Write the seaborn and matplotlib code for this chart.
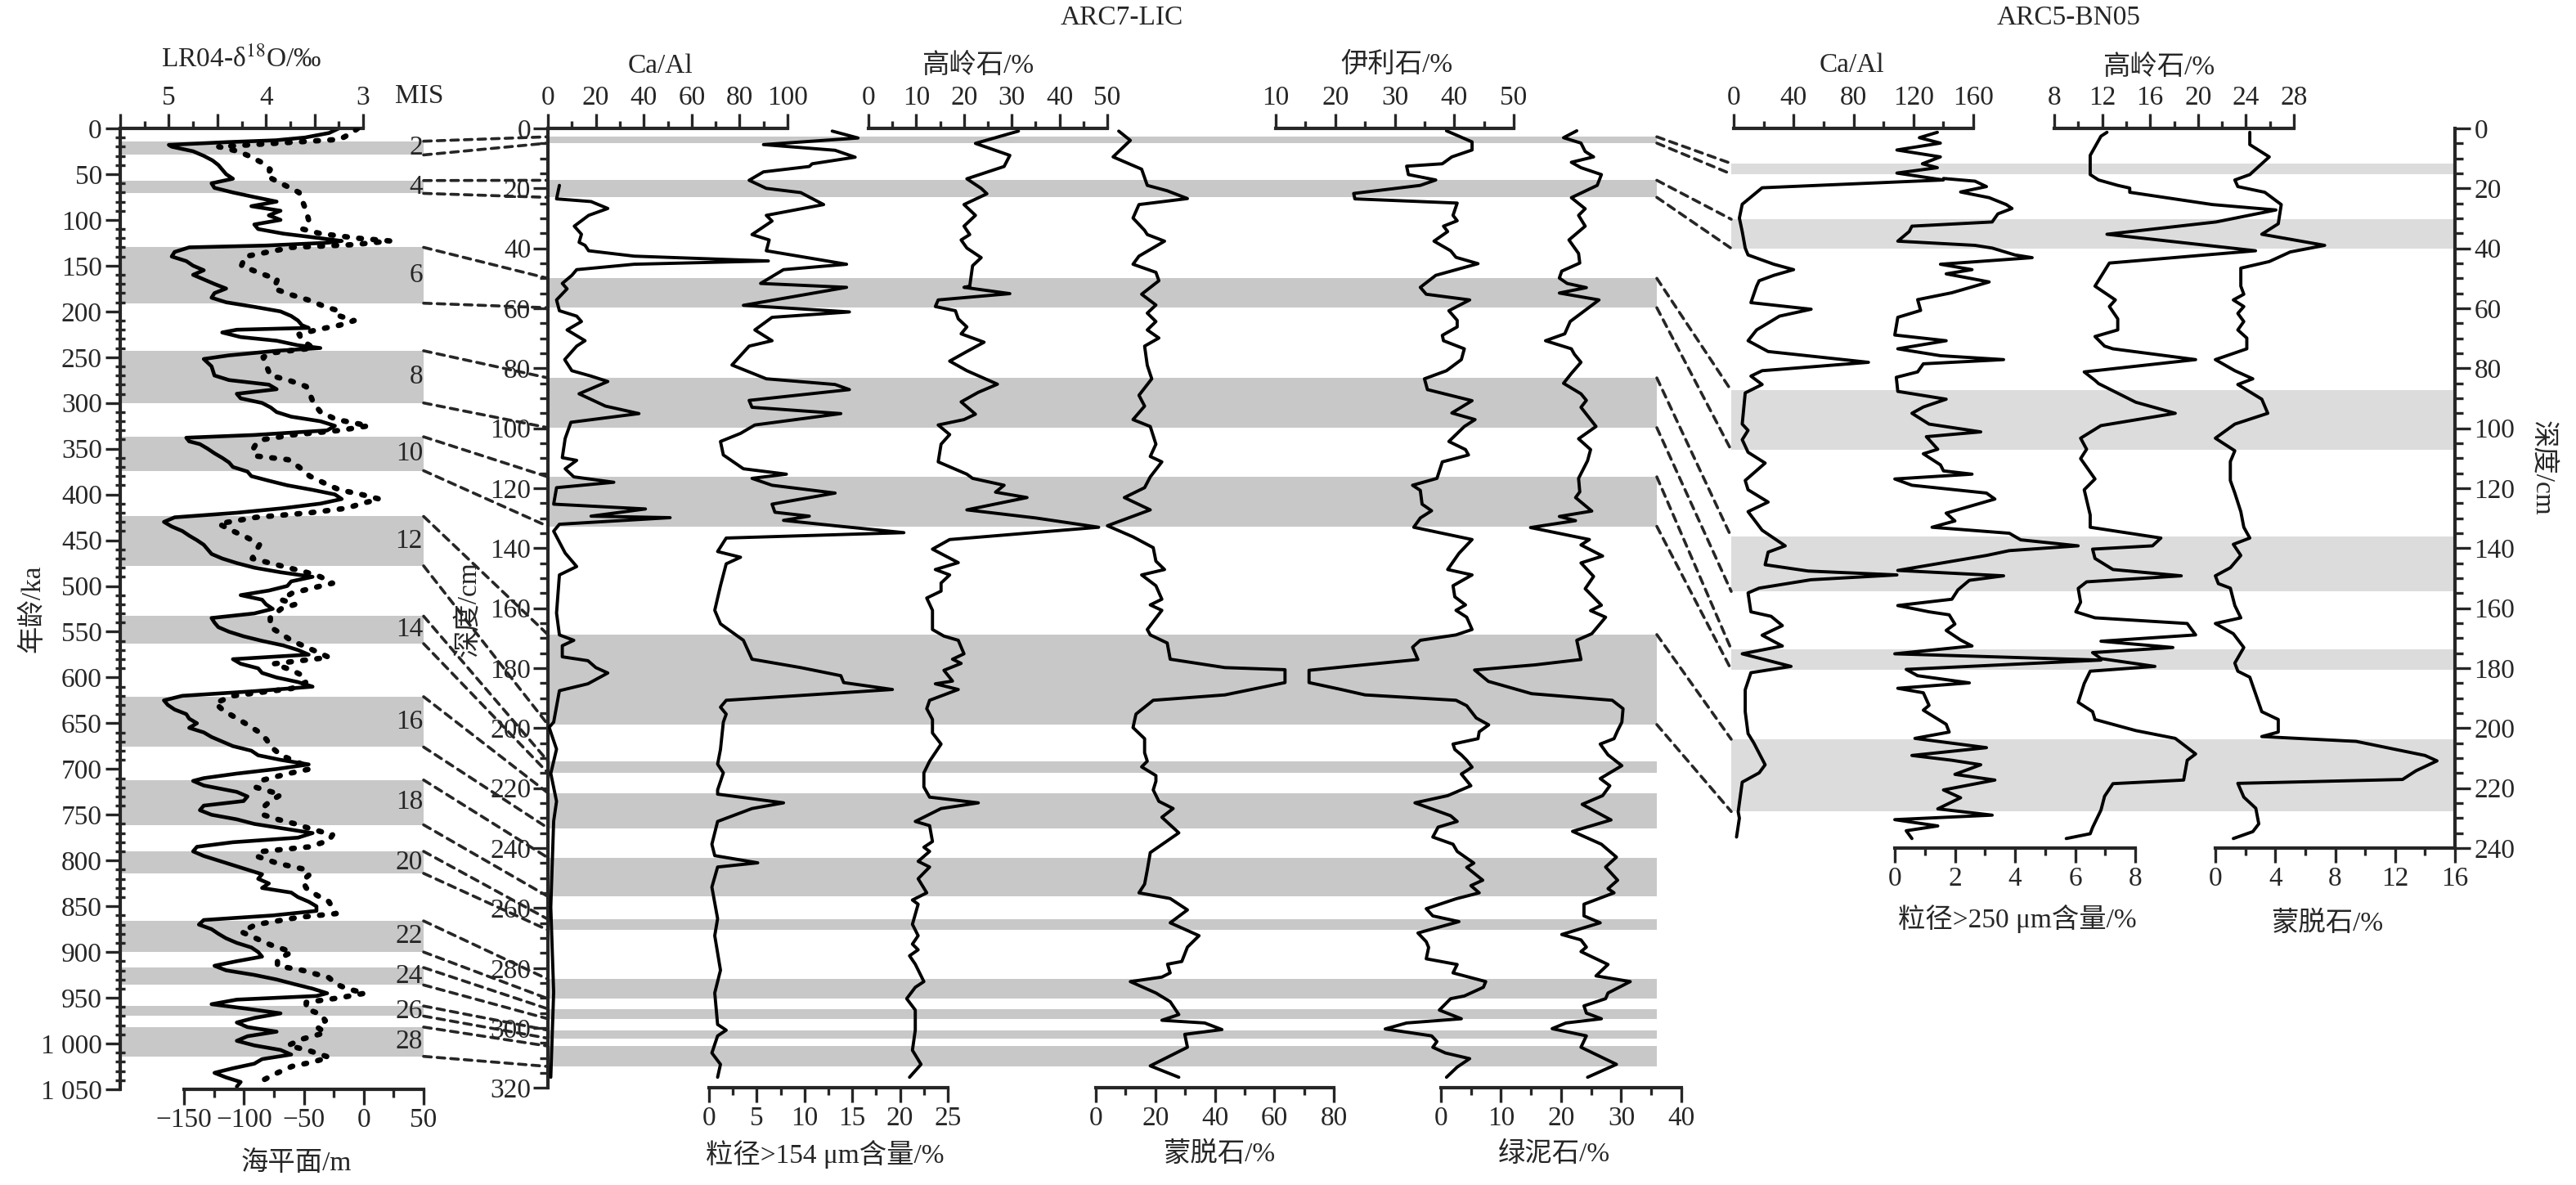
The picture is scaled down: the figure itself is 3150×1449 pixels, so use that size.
import numpy as np
import matplotlib
matplotlib.use("Agg")
import matplotlib.pyplot as plt
import seaborn as sns
from matplotlib.patches import ConnectionPatch
from matplotlib.ticker import FixedLocator, FuncFormatter

# ---------------- DATA ----------------
# LR04 benthic d18O (solid) vs age (ka)
lr04_age = [0, 5, 10, 13, 15, 18, 20, 25, 30, 35, 40, 45, 50, 55, 60, 65, 70, 75, 80, 85, 90, 95, 100, 105, 110, 115, 120, 123, 125, 128,
            130, 135, 140, 145, 150, 155, 160, 165, 170, 175, 180, 185, 190, 195, 200, 205, 210, 215, 218, 220, 223, 228, 232, 237, 240,
            243, 248, 252, 260, 270, 275, 280, 285, 290, 295, 300, 305, 310, 315, 320, 325, 330, 335, 338, 342, 345, 350, 355, 360, 365,
            370, 375, 380, 385, 390, 395, 400, 405, 410, 415, 420, 425, 430, 435, 440, 445, 450, 455, 460, 465, 470, 475, 480, 485, 490,
            495, 500, 505, 510, 515, 520, 525, 530, 535, 540, 545, 550, 555, 560, 565, 570, 575, 580, 585, 590, 595, 600, 605, 610, 615,
            620, 625, 630, 635, 640, 645, 650, 655, 660, 665, 670, 675, 680, 685, 690, 695, 700, 705, 710, 713, 718, 725, 730, 735, 740,
            745, 750, 755, 760, 765, 770, 775, 780, 785, 790, 795, 800, 805, 810, 815, 820, 825, 830, 835, 840, 845, 850, 855, 860, 865,
            870, 875, 880, 885, 890, 895, 900, 905, 910, 915, 920, 925, 930, 935, 940, 945, 948, 952, 957, 962, 967, 972, 977, 982, 987,
            992, 997, 1002, 1007, 1012, 1017, 1022, 1027, 1032, 1037, 1042, 1047]
lr04_d18o = [3.25, 3.35, 3.6, 3.9, 4.4, 5.0, 4.97, 4.75, 4.64, 4.55, 4.49, 4.45, 4.41, 4.34, 4.56, 4.53, 4.34, 4.12, 3.89, 4.15, 3.85, 3.97, 3.85, 4.12, 4.08, 3.82, 3.44, 3.22, 3.37, 4.0,
             4.79, 4.94, 4.97, 4.82, 4.75, 4.64, 4.75, 4.64, 4.53, 4.41, 4.53, 4.56, 4.41, 4.12, 3.85, 3.74, 3.67, 3.63, 3.56, 4.30, 4.45, 4.26, 3.89, 3.67, 3.44,
             3.89, 4.38, 4.64, 4.56, 4.53, 4.38, 3.97, 3.89, 4.30, 4.26, 4.04, 3.95, 3.89, 3.74, 3.44, 3.29, 3.37, 4.12, 4.82, 4.79, 4.68, 4.60, 4.53, 4.45, 4.38,
             4.34, 4.19, 4.15, 3.97, 3.78, 3.52, 3.29, 3.22, 3.44, 3.82, 4.30, 4.94, 5.05, 4.97, 4.86, 4.79, 4.71, 4.64, 4.60, 4.56, 4.45, 4.30, 4.12, 3.85, 3.52,
             3.74, 3.78, 3.97, 4.26, 4.04, 4.00, 3.93, 4.12, 4.56, 4.53, 4.49, 4.38, 4.23, 4.04, 3.82, 3.67, 3.56, 4.34, 4.26, 4.08, 4.04, 3.89, 3.67, 3.52, 4.12,
             4.86, 5.05, 5.01, 4.94, 4.82, 4.79, 4.71, 4.79, 4.64, 4.56, 4.45, 4.34, 4.15, 4.08, 3.85, 3.56, 3.89, 4.30, 4.64, 4.75, 4.64, 4.30, 4.19, 4.23, 4.64,
             4.68, 4.56, 4.30, 4.12, 3.82, 3.52, 3.67, 4.34, 4.71, 4.75, 4.64, 4.49, 4.34, 4.19, 4.04, 4.08, 3.97, 4.04, 3.74, 3.67, 3.56, 3.48, 3.48, 3.93, 4.64,
             4.69, 4.56, 4.49, 4.41, 4.30, 4.15, 4.08, 4.04, 4.30, 4.53, 4.41, 4.12, 3.89, 3.71, 3.52, 3.37, 3.48, 4.30, 4.56, 4.19, 3.85, 4.12, 4.30, 4.19, 3.89,
             4.19, 4.30, 4.12, 3.85, 3.74, 4.04, 4.12, 4.34, 4.53, 4.41, 4.26, 4.30]

# Sea level (dotted) vs age (ka)
sl_age = [0, 5, 12, 20, 25, 30, 38, 45, 52, 60, 70, 80, 90, 100, 110, 115, 120, 123, 127, 130, 140, 150, 158, 165, 175, 182, 188, 195,
          200, 205, 210, 215, 220, 225, 232, 240, 245, 250, 260, 270, 275, 282, 290, 300, 310, 318, 325, 330, 335, 340, 345, 352, 358,
          362, 370, 380, 390, 395, 400, 405, 410, 415, 420, 425, 432, 440, 448, 455, 462, 470, 475, 480, 485, 490, 497, 502, 508, 515,
          520, 525, 535, 545, 552, 560, 565, 572, 578, 585, 592, 598, 605, 612, 620, 628, 635, 640, 650, 660, 668, 675, 685, 695, 700,
          705, 712, 720, 728, 735, 742, 750, 755, 760, 765, 772, 778, 785, 790, 795, 803, 810, 815, 822, 830, 838, 845, 852, 858, 862,
          870, 878, 885, 892, 900, 908, 915, 920, 928, 935, 940, 945, 950, 955, 962, 968, 975, 982, 988, 995, 1002, 1008, 1015, 1020,
          1025, 1032, 1040]
sl_m = [-5, -10, -20, -121, -105, -96, -84, -78, -81, -69, -54, -51, -48, -46, -51, -36, -5, 22, -8, -60, -99, -102, -87, -72, -75, -60, -45, -32,
        -19, -20, -8, -20, -39, -54, -51, -42, -75, -84, -81, -78, -63, -48, -45, -42, -36, -23, 4, -20, -60, -84, -90, -93, -90,
        -63, -54, -45, -29, -20, -2, 13, -2, -14, -45, -90, -121, -109, -96, -87, -90, -93, -78, -63, -48, -36, -26, -42, -60, -69,
        -57, -69, -78, -78, -69, -60, -51, -39, -29, -75, -60, -51, -48, -60, -109, -124, -118, -112, -99, -87, -81, -78, -69, -51, -45,
        -63, -84, -90, -69, -78, -84, -84, -72, -57, -45, -26, -29, -45, -84, -90, -72, -48, -45, -51, -48, -39, -29, -26, -23, -54,
        -90, -102, -90, -78, -60, -72, -72, -51, -29, -23, -14, 1, -20, -48, -48, -36, -32, -39, -32, -51, -63, -45, -29, -42,
        -60, -72, -84]

# Marine isotope stages (glacial, ka)
mis_labels = ["2", "4", "6", "8", "10", "12", "14", "16", "18", "20", "22", "24", "26", "28"]
mis_top = [14, 57, 130, 243, 337, 424, 533, 621, 712, 790, 866, 917, 959, 982]
mis_bottom = [29, 71, 191, 300, 374, 478, 563, 676, 761, 814, 900, 936, 970, 1014]

# ARC7-LIC (depth cm)
lic_band_top = [2.8, 17.3, 50.0, 83.2, 116.2, 168.8, 211.0, 221.6, 243.2, 263.7, 283.7, 293.6, 300.7, 306.0]
lic_band_bottom = [4.9, 23.0, 59.8, 99.8, 132.7, 198.8, 214.9, 233.3, 256.1, 267.3, 290.2, 296.9, 303.4, 312.8]

lic_caal_depth = [19, 23.5, 24.4, 26.7, 29, 32.6, 35.3, 38, 39, 40.8, 42.6, 44.2, 45.3, 47.1, 49, 51.7, 53.5, 57.2, 60.8, 62.6, 64.4, 67.2,
                  70.8, 72.6, 77.1, 80.8, 82.6, 84.4, 88.5, 92.6, 95.1, 98, 103.4, 109.8, 110.7, 113.5, 116.2, 118, 119.8, 125.3, 126.9,
                  129.3, 129.8, 132, 134.3, 141.6, 146.1, 148.9, 161.6, 168.9, 170.7, 172.5, 176.2, 177.5, 179.8, 181.6, 185.2, 187.5,
                  198, 199.7, 207, 215.1, 224.4, 231, 259.7, 288, 316.4]
lic_caal = [4.8, 3.6, 18, 25, 17, 11, 14, 13, 15.5, 17, 36, 92, 36, 12, 10, 6, 8, 3.6, 4.8, 12, 14, 8,
            15.5, 12, 7, 10, 18, 25, 13, 24, 38, 9.6, 7.2, 6, 12, 7.2, 10.8, 27.5, 3.6, 2.4, 40.7,
            18, 51, 4.8, 2.4, 7.2, 12, 4.8, 3.6, 4.8, 10.8, 6, 6, 16.7, 20, 25, 16.7, 4.8,
            2.4, 0.5, 3.6, 1.2, 3.6, 2.4, 1.2, 2.4, 1.2]

lic_gs_depth = [0.9, 3.2, 5.4, 7.3, 9.6, 11.8, 12.7, 14.5, 17.3, 20, 21.4, 25.4, 29, 30.9, 35.4, 37.2, 40.8, 45.3, 47.1, 51.7, 53, 59,
                61.2, 63, 67.2, 70.8, 72.6, 78.9, 83.5, 85.4, 87.1, 90.7, 93, 95.1, 98.9, 101.7, 104.4, 108.9, 113.5, 115.3, 116.7,
                119, 121.6, 125.3, 128, 129.3, 130.7, 132.5, 134.8, 136.6, 141.1, 143, 145.2, 152.5, 160.7, 165.2, 170.7, 177,
                179.8, 182.5, 184.8, 187.1, 190.7, 193, 195.3, 198, 207.1, 212, 214.9, 220.6, 222, 224.9, 226.8, 231.1, 238.7,
                242.5, 244.9, 246.3, 253, 263.5, 269.2, 280.7, 288.3, 298.8, 300.7, 302.6, 308.3, 312.1, 316.4]
lic_gs = [12.9, 15.6, 5.7, 13.2, 15.3, 10.8, 10.5, 5.7, 4.2, 6, 9.6, 12, 6, 6.6, 4.5, 6.3, 6, 14.4, 7.8, 5.4, 14.4, 3.6,
          14.7, 6.6, 4.8, 6.6, 4.2, 2.4, 6, 13.2, 14.7, 4.2, 4.5, 13.8, 4.8, 3.3, 1.2, 1.5, 3.6, 8.1, 4.5,
          6.6, 13.2, 6.6, 6.9, 10.5, 7.8, 13.2, 20.4, 1.8, 0.9, 3.3, 1.8, 1.2, 0.6, 1.2, 3.6, 4.5,
          9.6, 13.8, 14.1, 19.2, 1.8, 1.2, 1.8, 1.5, 1.2, 0.9, 1.5, 0.9, 0.9, 7.8, 4.5, 0.9, 0.3,
          0.6, 5.1, 0.9, 0.3, 0.9, 0.6, 1.2, 0.6, 0.9, 1.8, 0.9, 0.3, 1.2, 0.9]

lic_kaol_depth = [0.9, 5, 9, 12.7, 16.8, 20, 21.8, 25.4, 29, 32.6, 35.4, 37.2, 39.9, 43.1, 45.8, 52.6, 53, 55.1, 57.2, 59.4, 60.8, 63.5,
                  66.2, 68.5, 71.3, 74.4, 77.6, 80.8, 85.3, 88, 91.2, 95.3, 97.1, 98.9, 102.1, 105.3, 111.2, 115.3, 116.7, 119, 121.3,
                  123.1, 127.2, 129.9, 133, 137.1, 140.3, 144.8, 147.1, 148.9, 151.6, 154.3, 156.6, 160.7, 167.1, 169.3, 170.7, 175.2,
                  177, 178.4, 180.7, 184.3, 185.2, 187.1, 190.7, 193.5, 197.1, 201.6, 205.3, 211, 214.9, 219.6, 223, 224.9, 226.8,
                  231.1, 232.5, 237.8, 239.7, 241.1, 244.4, 246.3, 250.2, 254.9, 257.3, 258.7, 265.4, 269.2, 272, 273.9, 275.9, 278.7,
                  284.5, 286.4, 290.2, 294, 300.7, 307.4, 312.1, 316.4]
lic_kaol = [31.4, 22.4, 29.6, 28.4, 20.6, 23.6, 24.8, 20, 22.4, 20, 21.2, 19.4, 20.6, 23.6, 21.8, 21.2, 20, 29.6, 14.6, 14, 18.2, 18.8,
            20.6, 19.4, 24.2, 20.6, 17, 20.6, 27, 23, 19.4, 22.4, 20, 14.6, 17, 15.2, 14.6, 20.6, 21.8, 28.4, 26.6,
            33.2, 20.6, 35, 48.2, 17, 13.4, 18.8, 14, 17, 15.2, 15.2, 12.2, 13.4, 13.4, 15.8, 18.8, 20,
            17.6, 19.4, 15.8, 17.6, 14, 18.8, 12.8, 12.2, 13.4, 13.4, 15.2, 12.8, 11.6, 11.6, 12.8, 23, 15.2,
            9.8, 12.8, 13.4, 11.6, 12.8, 10.4, 12.8, 10.4, 12.2, 9.2, 10.4, 9.2, 10.4, 9.2, 10.4, 8.6, 9.8,
            11.6, 9.8, 8, 9.8, 9.8, 9.2, 11, 8.6]

lic_smec_depth = [0.9, 4, 9.5, 13.6, 19, 20.8, 23.4, 25.4, 29.9, 34, 35.4, 37.6, 42.6, 45.3, 48, 50.8, 55.3, 58.9, 61.6, 64.4, 67.2,
                  69.9, 72.6, 79, 83.5, 89, 92.6, 97.1, 99.4, 105.3, 109.4, 111.2, 116.2, 119.8, 123.1, 127.2, 132.5, 136.2, 139.8,
                  144.3, 147.1, 148.9, 152.5, 157, 158.9, 160.7, 167.1, 168.9, 171.6, 177, 179.8, 180.5, 184.8, 188.9, 190.7, 195.3,
                  199.8, 203.5, 208.2, 211, 212.9, 215.8, 217.7, 220.6, 224.4, 226.8, 229.7, 234.9, 241.5, 247.3, 252, 254.9, 256.8,
                  260.6, 264.9, 269.2, 273, 277.8, 278.7, 281.6, 283, 284.5, 288.3, 291.2, 295.5, 297.4, 298.3, 300.5, 302.1, 306.4,
                  312.6, 316.4]
lic_smec = [7.7, 11.6, 5.8, 15.4, 17.3, 24, 30.8, 14.5, 12.5, 16.4, 17.3, 23.1, 14.5, 12.5, 20.2, 21.2, 15.4, 20.2, 17.3, 20.2, 17.3,
            21.2, 16.4, 17.3, 18.8, 14.5, 16.4, 12.5, 18.3, 20.2, 18.3, 22.2, 18.3, 16.4, 9.6, 18.3, 3.9, 12.5, 19.3,
            20.2, 23.1, 15.4, 20.2, 22.2, 18.3, 22.2, 17.3, 18.3, 24, 25, 43.4, 63.6, 63.6, 43.4, 19.3, 13.5,
            12.5, 16.4, 16.4, 17.3, 15.4, 20.2, 20.2, 19.3, 21.2, 26, 22.2, 27.9, 18.3, 17.3, 16.4, 14.5, 25,
            30.8, 25, 34.7, 30.8, 28.9, 24.1, 25, 22.2, 11.6, 20.2, 25, 27.9, 22.2, 36.6, 42.4, 29.9, 30.8,
            18.3, 27.9]

lic_illite_depth = [0.8, 4.5, 7.2, 9.5, 11.8, 12.6, 15.4, 17.2, 19, 21.7, 23.5, 24.9, 29, 30.8, 32.6, 34.4, 37.6, 40.8, 43, 45.1, 49,
                    53, 55.3, 57.2, 60.8, 64, 66.2, 69, 70.8, 73.5, 77.1, 80.8, 83.5, 87.1, 90.8, 94.9, 97.1, 99.4, 104.4, 107.1,
                    108.9, 111.2, 116.7, 119, 120.7, 125.3, 127.5, 129.9, 133, 137.1, 141.7, 147.1, 148.9, 152.5, 156.2, 158.9,
                    160.7, 163, 167.1, 168.9, 170.7, 173, 177.1, 178.9, 180.7, 184.8, 187.1, 188.9, 190.7, 192.5, 196.6, 198.9,
                    201.2, 203.5, 205.3, 207.1, 208.9, 210.7, 213, 215.3, 219.2, 222.5, 224.9, 229.2, 231.1, 233, 236.3, 238.7,
                    241.1, 245, 246.4, 250.7, 252.5, 254.9, 256.9, 260.2, 262.6, 264.5, 268.3, 271.2, 273.1, 276.9, 278.8, 281.6,
                    284.5, 286.4, 289.3, 290.2, 294, 296.9, 298.3, 300.3, 302.6, 304.5, 306.4, 308.3, 310.2, 313, 316.4]
lic_illite = [38.7, 43, 43, 39.6, 38, 32, 32.3, 36.9, 34.3, 23.1, 23.3, 40.5, 39.8, 40.5, 38.2, 38.9, 36.6, 39.4, 40.3, 44, 36.9,
              34.3, 35.3, 42.6, 39.1, 40.5, 40.5, 38, 38.2, 41.7, 41.2, 38.7, 35, 35.5, 43, 39.6, 43.5, 41.7, 39.1, 41.9,
              42.4, 38, 37.1, 33, 34.3, 34.6, 36.2, 34.3, 33.2, 43, 40.8, 38.9, 43, 39.8, 40.1, 41.9,
              40.3, 42.1, 43, 40.3, 34.3, 33, 33.9, 24.7, 15.6, 15.6, 21, 25, 40.3, 42.1, 43.7, 45.8,
              44.2, 44, 39.8, 40.1, 41.2, 42.1, 43, 41.2, 42.8, 38.9, 33.4, 39.4, 40.5, 37.3, 36.4, 39.8,
              40.5, 43.3, 42.1, 44.8, 42.8, 44.2, 40.3, 35.3, 36.4, 40.8, 33.9, 35.3, 35.7, 35.3, 40.5, 39.8,
              45.3, 44.9, 41.7, 39.4, 37.5, 41.2, 32, 28.4, 36.2, 37.1, 36.4, 38.5, 42.6, 40.5, 38.7]

lic_chl_depth = [0.8, 3.1, 4.9, 7.7, 9.5, 11.3, 13.1, 15.4, 19, 23.1, 26.8, 29, 32.6, 37.2, 41.7, 44.9, 47.6, 49.9, 51.7, 53.1, 54.9,
                 57.2, 61.7, 64.4, 68.5, 70.8, 73.5, 75.3, 78, 81.7, 85, 88.5, 90.7, 93, 99.4, 103.5, 107.1, 110.8, 116.7, 121.2,
                 123.1, 127.6, 129.4, 130.8, 133.1, 137.1, 138.9, 142.6, 144.9, 149.4, 153.5, 159, 160.8, 163, 168.5, 170.7, 177.1,
                 178.9, 180.6, 184.4, 188.5, 190.7, 193.5, 198, 200.8, 203.5, 205.3, 208.9, 212.5, 216.8, 219.2, 222.5, 225.4,
                 230.6, 234.4, 238.7, 243, 246.3, 250.7, 253.5, 254.9, 258.7, 262.6, 264.9, 268.8, 270.6, 273, 274.5, 278.8,
                 282.6, 284.5, 288.3, 290.2, 292.6, 295, 296.9, 298.3, 300.2, 302.6, 306.4, 312.1, 316.4]
lic_chl = [22.6, 20.4, 23.3, 24, 25.4, 21.7, 23.3, 26.7, 26, 21.7, 24, 22.9, 24, 21.3, 22.9, 23.1, 20.1, 19.7, 21, 24.2, 19.7,
           26.3, 23.3, 21.5, 20.6, 17.4, 21.7, 22.2, 23.3, 21.7, 20.4, 23.3, 24.2, 23.3, 25.8, 22.9, 24.9, 24.4, 22.9, 23.1,
           22.4, 25.1, 19.7, 22.4, 14.9, 24.7, 23.3, 26.9, 23.3, 25.4, 24, 26.7, 24.9, 27.4, 25.1, 22.6, 23.3,
           15.6, 5.6, 7.9, 15.1, 28.5, 30.3, 30.1, 29.4, 28.8, 26.5, 27.8, 30.1, 26.5, 28.1, 26.9, 23.5,
           28.3, 21.9, 26.7, 29.2, 27.4, 29.4, 27.8, 28.8, 23.8, 23.8, 26.5, 20.1, 23.3, 24.2, 23.3, 27.8,
           25.8, 31.5, 27.8, 27.4, 23.8, 24.2, 26.7, 20.8, 18.5, 24.2, 23.3, 29.2, 24.4]

# ARC5-BN05 (depth cm)
bn_band_top = [11.7, 30.3, 87.4, 136.2, 173.7, 203.7]
bn_band_bottom = [15.2, 40.0, 107.3, 154.4, 180.5, 227.8]

bn_caal_depth = [1.3, 3.1, 4.9, 7.2, 9.5, 11.8, 13.1, 14.9, 17.2, 19.8, 25.3, 29.9, 34.4, 39.9, 42.2, 45.3, 47.1, 49, 50.8, 52.6,
                 58.1, 60.3, 62.6, 64.9, 67.2, 70.8, 74.4, 78, 80.8, 82.6, 85.4, 88.2, 98.6, 100.7, 103.8, 108, 111.6, 117.4,
                 120.5, 124.6, 127.8, 134, 139.2, 141.3, 145.5, 147.6, 148.9, 150.5, 153.3, 154.9, 161.2, 162.7, 165.8, 169,
                 172.6, 175.2, 179.4, 181.5, 187.2, 194.5, 201.8, 204.9, 212.2, 214.9, 218, 227.9, 230, 236.3]
bn_caal = [136, 124, 138, 109, 138, 126, 136, 109, 140, 19, 5.7, 3.8, 5.7, 7.7, 9.6, 26.8, 40, 26.8, 17, 15.3,
           11.5, 51.7, 30.6, 23, 15.3, 9.6, 23, 90, 19, 11.5, 19, 7.7, 5.7, 9.6, 5.7, 9.6, 21, 7.7,
           9.6, 23, 9.6, 19, 34.4, 23, 21, 49.8, 109, 51.7, 17, 9.6, 11.5, 25, 32.5, 19,
           32.5, 5.7, 38.3, 11.5, 7.7, 7.7, 9.6, 13.4, 21, 17, 5.7, 3, 3.8, 1.9]

bn_gs_depth = [16.7, 17.6, 19.4, 21.2, 23.1, 25.4, 26.7, 28.5, 31.2, 32.6, 34.4, 37.6, 39, 39.9, 42.2, 43.1, 45.3, 47.1, 48.5,
               51.2, 54.8, 57.1, 60.7, 63, 68.9, 70.8, 73.5, 75.8, 77.1, 78.5, 81.2, 83, 87.7, 90.3, 92.9, 95, 98.6, 101.2,
               102.8, 107, 108.5, 112.2, 114.2, 115.3, 116.9, 119, 121.6, 123.6, 128.3, 130.9, 133, 135, 137.2, 139.2, 140.8,
               142.4, 147.4, 149.2, 150.7, 153.9, 157, 159.1, 161.2, 162.2, 165.3, 167.4, 170.6, 172.6, 175.2, 177.3, 180.4,
               182.5, 184.9, 186.7, 188.2, 192.4, 194, 198.7, 201.3, 203.4, 206.5, 209.1, 210.7, 212.2, 215.4, 217.3, 220.6,
               223.2, 226.9, 229, 230.5, 232.6, 234.2, 236.8]
bn_gs = [1.62, 2.67, 3.05, 2.19, 3.14, 3.71, 3.9, 3.43, 3.24, 0.57, 0.48, 0.1, 2.67, 3.24, 4.0, 4.57, 1.52, 2.57, 1.71,
         3.14, 1.9, 0.76, 0.86, 0.1, 0.0, 1.71, 0.1, 1.52, 3.62, 0.95, 0.76, 0.05, 0.1, 1.71, 0.95, 0.57, 1.14, 2.86,
         1.05, 1.43, 0.95, 1.52, 1.62, 2.57, 0.0, 0.57, 3.05, 3.33, 1.71, 2.0, 1.24, 3.81, 4.19, 6.1, 3.81,
         3.05, 0.1, 3.62, 2.48, 2.1, 1.9, 0.1, 1.14, 1.81, 2.0, 1.71, 2.19, 2.57, 0.0, 6.86, 0.38,
         0.76, 2.48, 0.1, 0.95, 1.14, 0.95, 1.71, 1.81, 0.67, 3.05, 0.57, 1.9, 2.86, 2.0, 3.33, 1.62,
         2.19, 1.43, 3.24, 0.0, 1.43, 0.38, 0.57]

bn_kaol_depth = [1.3, 2.6, 9, 15.4, 17.2, 19, 19.9, 21.3, 25.4, 27.2, 31.2, 35.3, 40.8, 44.9, 52.6, 57.2, 59.4, 63.5, 67.2, 69.4,
                 72.6, 73.5, 77.1, 81.2, 84, 85.1, 91.3, 95, 99.1, 103.3, 107, 110.1, 116.9, 120.5, 128.9, 133, 136.6, 139.2,
                 140.3, 143.4, 147.1, 149.2, 151.2, 153.4, 158, 161.2, 163.2, 165.1, 168.9, 171, 173.1, 174.8, 176.8, 179.4,
                 181, 185.1, 191.4, 194.5, 197.1, 200.8, 203.4, 208.6, 210.7, 217.3, 218.5, 222.7, 227.3, 233.1, 235.2, 236.8]
bn_kaol = [12.4, 11.9, 11.0, 11.0, 11.7, 13.3, 14.3, 14.3, 21.2, 26.5, 21.5, 12.4, 24.8, 12.6, 11.4, 13.1, 12.6, 13.3, 13.3, 11.4,
           12.2, 12.9, 19.8, 10.5, 11.4, 11.7, 14.8, 18.1, 11.9, 10.2, 10.7, 10.2, 11.4, 10.5, 11.0, 11.0, 16.9, 16.2,
           11.2, 11.4, 12.9, 18.6, 10.7, 10.0, 10.2, 9.8, 11.4, 19.1, 19.8, 11.9, 17.9, 11.2, 11.9, 16.4,
           11.0, 10.5, 10.0, 11.2, 11.4, 14.8, 18.1, 19.8, 19.1, 18.8, 12.9, 12.2, 11.9, 11.2, 11.0, 9.0]

bn_smec_depth = [1.3, 5.4, 9.5, 15.4, 17.2, 19.4, 21.3, 25.4, 31.8, 35.3, 39, 41.2, 44.4, 46.6, 52.6, 55.3, 57.2, 59.4, 61.7, 64.4,
                 67.2, 69.9, 73.5, 77.1, 80.8, 83.5, 85.4, 90.3, 95, 98.6, 103.3, 107.5, 111.1, 117.4, 121.6, 127.8, 133, 136.6,
                 138.7, 142.4, 146.5, 149.2, 151.8, 153.3, 159.1, 163.2, 165.1, 168.5, 173.1, 178.3, 181, 183, 194.5, 197.1,
                 201.3, 202.8, 204.4, 209.1, 210.9, 214.2, 217.1, 218.4, 223, 226.7, 231.9, 234.5, 236.8]
bn_smec = [2.3, 2.3, 3.6, 2.3, 1.3, 1.5, 3.3, 4.4, 4.2, 3.1, 7.3, 5.0, 3.6, 1.7, 1.7, 1.9, 1.2, 1.9, 1.5, 1.9,
           1.5, 2.1, 2.1, 0.0, 1.3, 2.5, 1.5, 3.1, 3.5, 1.3, 0.0, 1.3, 1.0, 1.0, 1.3, 1.7, 1.9, 2.3,
           1.2, 1.7, 1.0, 0.0, 0.2, 1.0, 1.3, 1.7, 0.0, 1.2, 1.9, 1.3, 1.5, 2.3, 3.1, 4.2,
           4.2, 3.1, 9.4, 14.0, 14.8, 13.4, 12.5, 1.5, 1.9, 2.7, 2.9, 2.5, 1.2]

# ---------------- STYLE ----------------
sns.set_style("white")
plt.rcParams["font.family"] = ["Liberation Serif", "Noto Sans CJK SC"]
plt.rcParams["mathtext.fontset"] = "stix"
plt.rcParams["axes.unicode_minus"] = True

W, H, DPI = 3150, 1449, 100
FS = 24
LW_SP = 3.0
LW_TICK = 2.4
LW_CURVE = 2.8
BAND_DARK = "#c8c8c8"
BAND_LIGHT = "#dcdcdc"

fig = plt.figure(figsize=(W / DPI, H / DPI), dpi=DPI)
fig.patch.set_facecolor("white")


def rect(x0, y0, x1, y1):
    return [x0 / W, 1 - y1 / H, (x1 - x0) / W, (y1 - y0) / H]


def xlim_for(v0, v1, p0, p1, a0, a1):
    s = (p1 - p0) / (v1 - v0)
    return (v0 - (p0 - a0) / s, v0 + (a1 - p0) / s)


def num_fmt(v, pos=None):
    s = f"{v:g}"
    return s.replace("-", "\u2212")


def fx(px):
    return px / W


def fy(py):
    return 1 - py / H


def hide_spines(ax):
    for s in ax.spines.values():
        s.set_visible(False)


def curve_axis(base, a0, a1, v0, v1, p0, p1, side, major, minor, xs, ys, **kw):
    ax = base.twiny()
    sns.lineplot(x=xs, y=ys, ax=ax, sort=False, estimator=None, orient="y",
                 color="black", linewidth=LW_CURVE, legend=False, **kw)
    ax.set_xlim(*xlim_for(v0, v1, p0, p1, a0, a1))
    hide_spines(ax)
    ax.spines[side].set_visible(True)
    ax.spines[side].set_bounds(min(v0, v1), max(v0, v1))
    ax.spines[side].set_linewidth(LW_SP)
    if side == "top":
        ax.xaxis.set_ticks_position("top")
    else:
        ax.xaxis.set_ticks_position("bottom")
    lo, hi = min(v0, v1), max(v0, v1)
    ax.xaxis.set_major_locator(FixedLocator(np.arange(lo, hi + 1e-9, major)))
    ax.xaxis.set_minor_locator(FixedLocator(np.arange(lo, hi + 1e-9, minor)))
    ax.xaxis.set_major_formatter(FuncFormatter(num_fmt))
    ax.tick_params(axis="x", which="major", direction="out", length=13, width=LW_TICK,
                   pad=3, labelsize=FS)
    ax.tick_params(axis="x", which="minor", direction="out", length=6.5, width=LW_TICK)
    ax.set_xlabel("")
    ax.set_ylabel("")
    ax.grid(False)
    return ax


# ---------------- LR04 PANEL ----------------
LR_X0, LR_X1 = 147, 518
ax_lr = fig.add_axes(rect(LR_X0, 157, LR_X1, 1332))
ax_sl = ax_lr.twiny()

for t, b in zip(mis_top, mis_bottom):
    ax_lr.axhspan(t, b, color=BAND_DARK, lw=0, zorder=0)

sns.lineplot(x=lr04_d18o, y=lr04_age, ax=ax_lr, sort=False, estimator=None, orient="y",
             color="black", linewidth=3.3, legend=False)
sns.lineplot(x=sl_m, y=sl_age, ax=ax_sl, sort=False, estimator=None, orient="y",
             color="black", linewidth=4.8, legend=False,
             linestyle=(0, (0.5, 2.1)), dash_capstyle="round")

ax_lr.set_xlim(*xlim_for(5.5, 3.0, 147, 444, LR_X0, LR_X1))
ax_sl.set_xlim(*xlim_for(-150, 50, 225, 518, LR_X0, LR_X1))
ax_lr.set_ylim(1050, 0)

hide_spines(ax_lr)
ax_lr.spines["left"].set_visible(True)
ax_lr.spines["left"].set_linewidth(LW_SP)
ax_lr.spines["top"].set_visible(True)
ax_lr.spines["top"].set_bounds(3.0, 5.5)
ax_lr.spines["top"].set_linewidth(LW_SP)
ax_lr.xaxis.set_ticks_position("top")
ax_lr.xaxis.set_major_locator(FixedLocator(np.arange(3.0, 5.51, 0.5)))
ax_lr.xaxis.set_minor_locator(FixedLocator(np.arange(3.0, 5.51, 0.25)))
ax_lr.xaxis.set_major_formatter(FuncFormatter(lambda v, p: f"{v:.0f}" if abs(v - round(v)) < 1e-6 else ""))
ax_lr.tick_params(axis="x", which="major", direction="out", length=13, width=LW_TICK, pad=3, labelsize=FS)
ax_lr.tick_params(axis="x", which="minor", direction="out", length=6.5, width=LW_TICK)
ax_lr.yaxis.set_ticks_position("left")
ax_lr.yaxis.set_major_locator(FixedLocator(np.arange(0, 1051, 50)))
ax_lr.yaxis.set_minor_locator(FixedLocator(np.arange(0, 1051, 10)))
ax_lr.yaxis.set_major_formatter(FuncFormatter(
    lambda v, p: (f"{int(v) // 1000} {int(v) % 1000:03d}" if v >= 1000 else f"{int(v)}")))
ax_lr.tick_params(axis="y", which="major", direction="out", length=13, width=LW_TICK, pad=3, labelsize=FS)
ax_lr.tick_params(axis="y", which="minor", direction="inout", length=9, width=LW_TICK)
ax_lr.set_xlabel("")
ax_lr.set_ylabel("")

hide_spines(ax_sl)
ax_sl.spines["bottom"].set_visible(True)
ax_sl.spines["bottom"].set_bounds(-150, 50)
ax_sl.spines["bottom"].set_linewidth(LW_SP)
ax_sl.xaxis.set_ticks_position("bottom")
ax_sl.xaxis.set_major_locator(FixedLocator(np.arange(-150, 51, 50)))
ax_sl.xaxis.set_minor_locator(FixedLocator(np.arange(-150, 51, 25)))
ax_sl.xaxis.set_major_formatter(FuncFormatter(num_fmt))
ax_sl.tick_params(axis="x", which="major", direction="out", length=14, width=LW_TICK, pad=2, labelsize=FS)
ax_sl.tick_params(axis="x", which="minor", direction="out", length=7, width=LW_TICK)
ax_sl.set_xlabel("")
ax_sl.set_ylabel("")

for lab, t, b in zip(mis_labels, mis_top, mis_bottom):
    ax_lr.text(0.997, (t + b) / 2, lab, transform=ax_lr.get_yaxis_transform(),
               ha="right", va="center", fontsize=FS, zorder=5)

# ---------------- ARC7-LIC PANEL ----------------
M_X0, M_X1, M_BAND_X1 = 670, 2060, 2026
M_Y0, M_Y1 = 157, 157 + 320 * 3.667
ax_m = fig.add_axes(rect(M_X0, M_Y0, M_X1, M_Y1))
ax_m.patch.set_alpha(0)
ax_m.set_xlim(0, 1)
band_frac = (M_BAND_X1 - M_X0) / (M_X1 - M_X0)
for t, b in zip(lic_band_top, lic_band_bottom):
    ax_m.axhspan(t, b, xmin=0, xmax=band_frac, color=BAND_DARK, lw=0, zorder=0)

curves_m = [
    (0, 100, 670, 963, "top", 20, 10, lic_caal, lic_caal_depth),
    (0, 25, 867, 1159, "bottom", 5, 2.5, lic_gs, lic_gs_depth),
    (0, 50, 1062, 1354, "top", 10, 5, lic_kaol, lic_kaol_depth),
    (0, 80, 1340, 1631, "bottom", 20, 10, lic_smec, lic_smec_depth),
    (10, 50, 1560, 1851, "top", 10, 5, lic_illite, lic_illite_depth),
    (0, 40, 1762, 2056, "bottom", 10, 5, lic_chl, lic_chl_depth),
]
for v0, v1, p0, p1, side, mj, mn, xs, ys in curves_m:
    curve_axis(ax_m, M_X0, M_X1, v0, v1, p0, p1, side, mj, mn, xs, ys)

ax_m.set_ylim(320, 0)
hide_spines(ax_m)
ax_m.spines["left"].set_visible(True)
ax_m.spines["left"].set_linewidth(LW_SP)
ax_m.set_xticks([])
ax_m.yaxis.set_ticks_position("left")
ax_m.yaxis.set_major_locator(FixedLocator(np.arange(0, 321, 20)))
ax_m.yaxis.set_minor_locator(FixedLocator(np.arange(0, 321, 5)))
ax_m.yaxis.set_major_formatter(FuncFormatter(lambda v, p: f"{int(v)}"))
ax_m.tick_params(axis="y", which="major", direction="out", length=13, width=LW_TICK, pad=2, labelsize=FS)
ax_m.tick_params(axis="y", which="minor", direction="out", length=7, width=LW_TICK)

# ---------------- ARC5-BN05 PANEL ----------------
R_X0, R_X1 = 2117, 3002
R_Y0, R_Y1 = 157, 157 + 240 * 3.667
ax_r = fig.add_axes(rect(R_X0, R_Y0, R_X1, R_Y1))
ax_r.patch.set_alpha(0)
ax_r.set_xlim(0, 1)
for t, b in zip(bn_band_top, bn_band_bottom):
    ax_r.axhspan(t, b, color=BAND_LIGHT, lw=0, zorder=0)

curves_r = [
    (0, 160, 2120, 2413, "top", 40, 20, bn_caal, bn_caal_depth),
    (0, 8, 2317, 2611, "bottom", 2, 1, bn_gs, bn_gs_depth),
    (8, 28, 2512, 2805, "top", 4, 2, bn_kaol, bn_kaol_depth),
    (0, 16, 2709, 3002, "bottom", 4, 2, bn_smec, bn_smec_depth),
]
for v0, v1, p0, p1, side, mj, mn, xs, ys in curves_r:
    curve_axis(ax_r, R_X0, R_X1, v0, v1, p0, p1, side, mj, mn, xs, ys)

ax_r.set_ylim(240, 0)
hide_spines(ax_r)
ax_r.spines["right"].set_visible(True)
ax_r.spines["right"].set_linewidth(LW_SP)
ax_r.set_xticks([])
ax_r.yaxis.set_ticks_position("right")
ax_r.yaxis.set_major_locator(FixedLocator(np.arange(0, 241, 20)))
ax_r.yaxis.set_minor_locator(FixedLocator(np.arange(0, 241, 5)))
ax_r.yaxis.set_major_formatter(FuncFormatter(lambda v, p: f"{int(v)}"))
ax_r.tick_params(axis="y", which="major", direction="out", length=14, width=LW_TICK, pad=3, labelsize=FS)
ax_r.tick_params(axis="y", which="minor", direction="out", length=7, width=LW_TICK)

# ---------------- CORRELATION LINES ----------------
DASH = (0, (2.6, 2.0))
for mt, mb, lt, lb in zip(mis_top, mis_bottom, lic_band_top, lic_band_bottom):
    for a, b in ((mt, lt), (mb, lb)):
        con = ConnectionPatch(xyA=(1.0, a), coordsA=ax_lr.get_yaxis_transform(),
                              xyB=(0.0, b), coordsB=ax_m.get_yaxis_transform(),
                              color="#262626", lw=2.6, linestyle=DASH)
        fig.add_artist(con)
for lt, lb, bt, bb in zip(lic_band_top[:6], lic_band_bottom[:6], bn_band_top, bn_band_bottom):
    for a, b in ((lt, bt), (lb, bb)):
        con = ConnectionPatch(xyA=(band_frac, a), coordsA=ax_m.get_yaxis_transform(),
                              xyB=(0.0, b), coordsB=ax_r.get_yaxis_transform(),
                              color="#262626", lw=2.6, linestyle=DASH)
        fig.add_artist(con)

# ---------------- TEXT ----------------
def ftext(x, y, s, **kw):
    kw.setdefault("fontsize", FS)
    kw.setdefault("ha", "center")
    kw.setdefault("va", "center")
    fig.text(fx(x), fy(y), s, **kw)

ftext(295, 73, r"LR04-δ$^{18}$O/‰")
ftext(513, 118, "MIS")
ftext(40, 744, "年龄/ka", rotation=90)
ftext(362, 1423, "海平面/m")
ftext(573, 745, "深度/cm", rotation=90)
ftext(1372, 22, "ARC7-LIC")
ftext(807, 81, "Ca/Al")
ftext(1196, 81, "高岭石/%")
ftext(1708, 79, "伊利石/%")
ftext(1009, 1411, "粒径>154 μm含量/%")
ftext(1491, 1411, "蒙脱石/%")
ftext(1900, 1411, "绿泥石/%")
ftext(2530, 22, "ARC5-BN05")
ftext(2264, 80, "Ca/Al")
ftext(2640, 82, "高岭石/%")
ftext(2467, 1123, "粒径>250 μm含量/%")
ftext(2846, 1129, "蒙脱石/%")
ftext(3109, 572, "深度/cm", rotation=-90)

fig.savefig("out.png", dpi=DPI, facecolor="white")
